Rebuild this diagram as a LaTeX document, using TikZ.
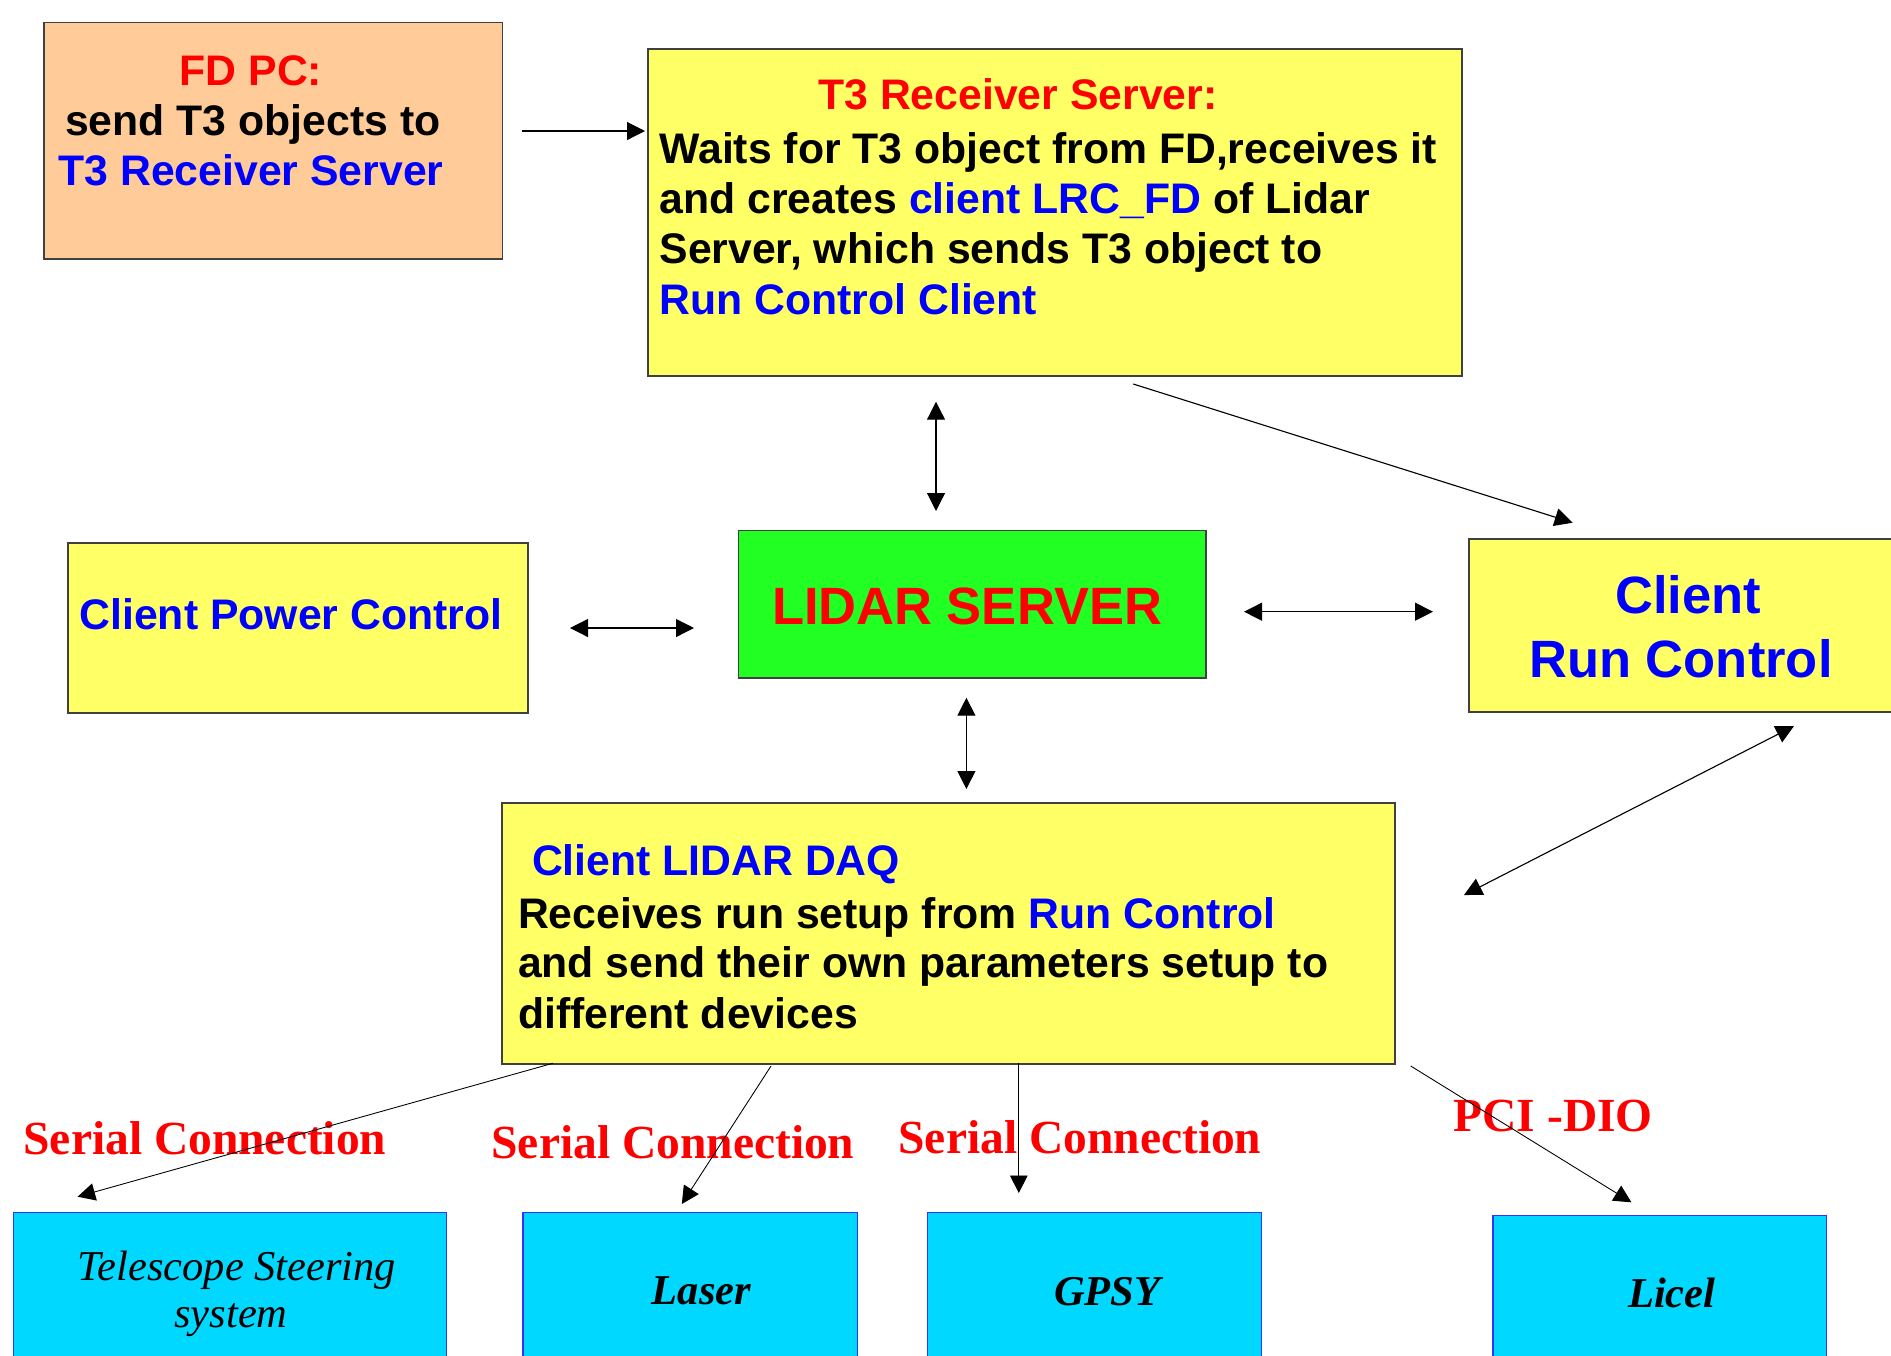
\documentclass[tikz,border=0pt]{standalone}
\usepackage{fontspec}
\setmainfont{Liberation Sans}
\newfontfamily\tnr{Liberation Serif}
\usetikzlibrary{arrows.meta}
\definecolor{peach}{HTML}{FFCC99}
\definecolor{ylw}{HTML}{FFFF66}
\definecolor{grn}{HTML}{22FF22}
\definecolor{cyn}{HTML}{00D8FF}
\definecolor{bordgray}{HTML}{404040}
\definecolor{bordblue}{HTML}{3333FF}
\definecolor{txtred}{HTML}{FF0000}
\definecolor{txtblue}{HTML}{0000FF}
\newcommand{\bl}[1]{\textcolor{txtblue}{#1}}
\tikzset{
  box/.style={draw=bordgray, line width=0.6pt, inner sep=0pt, outer sep=0pt, anchor=north west},
  devbox/.style={draw=bordblue, line width=0.5pt, fill=cyn, inner sep=0pt, outer sep=0pt, anchor=north west, minimum height=64pt},
  body/.style={inner sep=0pt, anchor=base west, font=\fontsize{17.1}{20}\selectfont\bfseries},
  big/.style={inner sep=0pt, anchor=base, font=\fontsize{21}{25}\selectfont\bfseries},
  conn/.style={inner sep=0pt, anchor=base west, text=txtred, font=\tnr\fontsize{19}{22}\selectfont\bfseries},
  dev/.style={inner sep=0pt, anchor=base, font=\tnr\fontsize{17}{20}\selectfont\itshape},
  arr/.style={line width=0.45pt, -{Triangle[length=7.2pt,width=7.2pt]}},
  darr/.style={line width=0.45pt, {Triangle[length=7.2pt,width=7.2pt]}-{Triangle[length=7.2pt,width=7.2pt]}},
  larr/.style={line width=0.35pt, -{Triangle[length=7pt,width=7pt]}}
}
\begin{document}
\begin{tikzpicture}[x=0.4pt,y=-0.4pt]
\useasboundingbox (0,0) rectangle (1891,1355);
\fill[white] (0,0) rectangle (1891,1355);

% boxes
\node[box, fill=peach, minimum width=183.4pt, minimum height=94.6pt] (fd) at (44,22.7) {};
\node[box, fill=ylw, minimum width=325.6pt, minimum height=130.8pt] (t3) at (648,49) {};
\node[box, fill=ylw, minimum width=184pt, minimum height=68pt] (cpc) at (68,543) {};
\node[box, fill=grn, minimum width=186.9pt, minimum height=58.9pt] (lidar) at (738.7,530.7) {};
\node[box, fill=ylw, minimum width=176pt, minimum height=69.2pt] (crc) at (1469,539) {};
\node[box, fill=ylw, minimum width=357.2pt, minimum height=104.4pt] (daq) at (502,803) {};
\node[devbox, minimum width=173.4pt] (tel) at (13.3,1212.7) {};
\node[devbox, minimum width=133.8pt] (laser) at (523,1212.7) {};
\node[devbox, minimum width=133.5pt] (gpsy) at (927.8,1212.7) {};
\node[devbox, minimum width=133.5pt] (licel) at (1493,1215.3) {};

% FD PC text
\node[body, anchor=base, text=txtred] (fdt1) at (251,85) {FD PC:};
\node[body] (fdt2) at (64.7,135) {send T3 objects to};
\node[body, text=txtblue] (fdt3) at (58,185) {T3 Receiver Server};

% T3 text
\node[body, anchor=base, text=txtred] (t3t1) at (1018,109) {T3 Receiver Server:};
\node[body] (t3t2) at (659,163.3) {Waits for T3 object from FD,receives it};
\node[body] (t3t3) at (659,213.3) {and creates \bl{client LRC\_FD} of Lidar};
\node[body] (t3t4) at (659,263.3) {Server, which sends T3 object to};
\node[body, text=txtblue] (t3t5) at (659,314.3) {Run Control Client};

% CPC text
\node[body, text=txtblue] (cpct) at (79,629) {Client Power Control};

% LIDAR SERVER
\node[big, text=txtred] (lidart) at (967,624) {LIDAR SERVER};

% Client Run Control
\node[big, text=txtblue] (crct1) at (1688,613) {Client};
\node[big, text=txtblue] (crct2) at (1681,677) {Run Control};

% DAQ text
\node[body, text=txtblue] (daqt1) at (531.5,875.7) {Client LIDAR DAQ};
\node[body] (daqt2) at (517.6,928.3) {Receives run setup from \bl{Run Control}};
\node[body] (daqt3) at (517.6,977.7) {and send their own parameters setup to};
\node[body] (daqt4) at (517.6,1028) {different devices};

% connection labels
\node[conn] (s1) at (23,1154) {Serial Connection};
\node[conn] (s2) at (491,1158.7) {Serial Connection};
\node[conn] (s3) at (898,1153) {Serial Connection};
\node[conn] (pci) at (1453,1131) {PCI -DIO};

% device text
\node[dev] (telt1) at (237,1280) {Telescope Steering};
\node[dev] (telt2) at (231,1327.7) {system};
\node[dev, font=\tnr\fontsize{17}{20}\selectfont\bfseries\itshape] (lasert) at (701.5,1304) {Laser};
\node[dev, font=\tnr\fontsize{17}{20}\selectfont\bfseries\itshape] (gpsyt) at (1107.3,1305) {GPSY};
\node[dev, font=\tnr\fontsize{17}{20}\selectfont\bfseries\itshape] (licelt) at (1671.8,1307) {Licel};

% connector end points
\coordinate (a1s) at (522,131);    \coordinate (a1e) at (645,131);
\coordinate (a2s) at (936,401.7);  \coordinate (a2e) at (936,511);
\coordinate (a3s) at (1133.3,384); \coordinate (a3e) at (1572.7,522.7);
\coordinate (a4s) at (570,628);    \coordinate (a4e) at (694,628);
\coordinate (a5s) at (1244,611.7); \coordinate (a5e) at (1433,611.7);
\coordinate (a6s) at (966.4,697.7);\coordinate (a6e) at (966.4,789);
\coordinate (a7s) at (1794,726);   \coordinate (a7e) at (1464,895);
\coordinate (a8s) at (552.7,1063.3);\coordinate (a8e) at (77.6,1196.7);
\coordinate (a9s) at (771,1066);   \coordinate (a9e) at (681.8,1204);
\coordinate (a10s) at (1018.8,1063);\coordinate (a10e) at (1018.8,1193);
\coordinate (a11s) at (1410.7,1066);\coordinate (a11e) at (1631.4,1202.3);

\draw[arr] (a1s) -- (a1e);
\draw[darr] (a2s) -- (a2e);
\draw[arr] (a3s) -- (a3e);
\draw[darr] (a4s) -- (a4e);
\draw[darr] (a5s) -- (a5e);
\draw[darr] (a6s) -- (a6e);
\draw[darr] (a7s) -- (a7e);
\draw[larr] (a8s) -- (a8e);
\draw[larr] (a9s) -- (a9e);
\draw[larr] (a10s) -- (a10e);
\draw[larr] (a11s) -- (a11e);
\end{tikzpicture}
\end{document}
